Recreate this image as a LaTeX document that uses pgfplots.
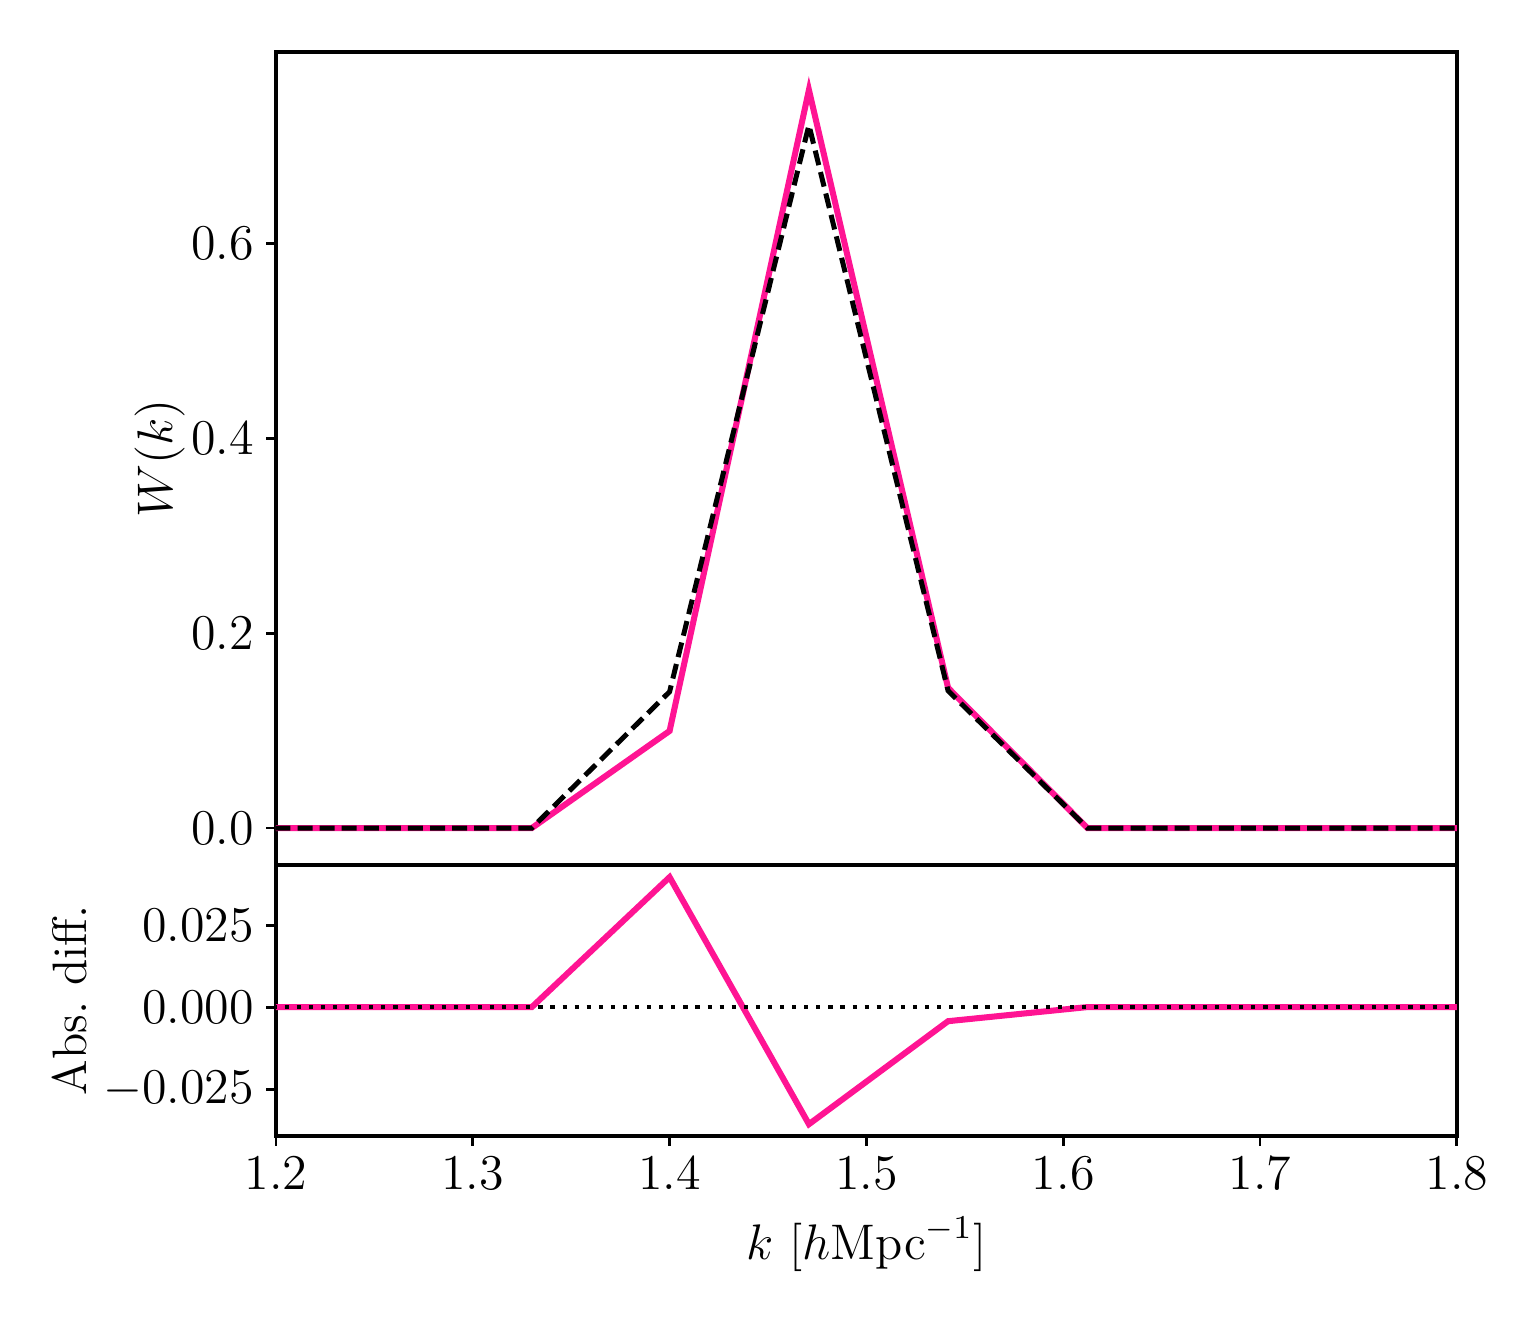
\documentclass[12pt,border=0pt]{standalone}
\usepackage{pgfplots}
\pgfplotsset{compat=1.18}
\definecolor{wpink}{RGB}{255,20,147}

\pgfplotsset{
  panel/.style={
    width=283.4pt, scale only axis,
    xmin=1.2, xmax=1.8,
    axis line style={line width=1pt},
    tick style={line width=0.7pt, black},
    tick align=outside, major tick length=2.3pt,
    xtick pos=bottom, ytick pos=left,
    minor tick num=0,
    scaled y ticks=false,
    tick label style={font=\fontsize{11.6}{13.9}\selectfont},
    label style={font=\fontsize{11.6}{13.9}\selectfont},
    yticklabel style={xshift=1.2pt},
    ylabel style={inner sep=0pt},
    clip=true,
  },
}

\begin{document}
\begin{tikzpicture}
\path[use as bounding box] (-66.24pt,-44.16pt) rectangle (303.36pt,272.64pt);

% bottom panel: absolute difference
\begin{axis}[panel, name=lower,
  at={(0,0)}, anchor=south west,
  height=65.04pt,
  ymin=-0.0393, ymax=0.0433,
  ytick={-0.025,0,0.025},
  yticklabel style={/pgf/number format/.cd, fixed, fixed zerofill, precision=3},
  xtick={1.2,1.3,1.4,1.5,1.6,1.7,1.8},
  xticklabel style={yshift=1.5pt, /pgf/number format/.cd, fixed, fixed zerofill, precision=1},
  xlabel={$k$ [$h\mathrm{Mpc}^{-1}$]},
  xlabel style={yshift=1.5pt},
  ylabel={Abs.\ diff.},
  ylabel style={at={(ticklabel cs:0.5,-0.3pt)}},
]
\addplot[wpink, line width=1.45pt] coordinates {
  (1.1885,0) (1.2592,0) (1.3300,0) (1.4000,0.0396) (1.4708,-0.0357)
  (1.5415,-0.0043) (1.6123,0) (1.6830,0) (1.7540,0) (1.8245,0)
};
\addplot[black, line width=1pt, dash pattern=on 1pt off 1.9pt] coordinates {
  (1.1,0) (1.9,0)
};
\end{axis}

% top panel: window functions
\begin{axis}[panel, name=upper,
  at={(lower.north west)}, anchor=south west,
  height=195.12pt,
  ymin=-0.038, ymax=0.797,
  ytick={0,0.2,0.4,0.6},
  yticklabel style={/pgf/number format/.cd, fixed, fixed zerofill, precision=1},
  xtick=\empty,
  ylabel={$W(k)$},
  ylabel style={at={(ticklabel cs:0.5,-2.6pt)}},
]
\addplot[wpink, line width=1.45pt] coordinates {
  (1.1885,0) (1.2592,0) (1.3300,0) (1.4000,0.0997) (1.4708,0.758)
  (1.5415,0.144) (1.6123,0) (1.6830,0) (1.7540,0) (1.8245,0)
};
\addplot[black, line width=1.2pt, dash pattern=on 3.6pt off 1.7pt] coordinates {
  (1.1885,0) (1.2592,0) (1.3300,0) (1.4000,0.140) (1.4708,0.722)
  (1.5415,0.141) (1.6123,0) (1.6830,0) (1.7540,0) (1.8245,0)
};
\end{axis}
\end{tikzpicture}
\end{document}
